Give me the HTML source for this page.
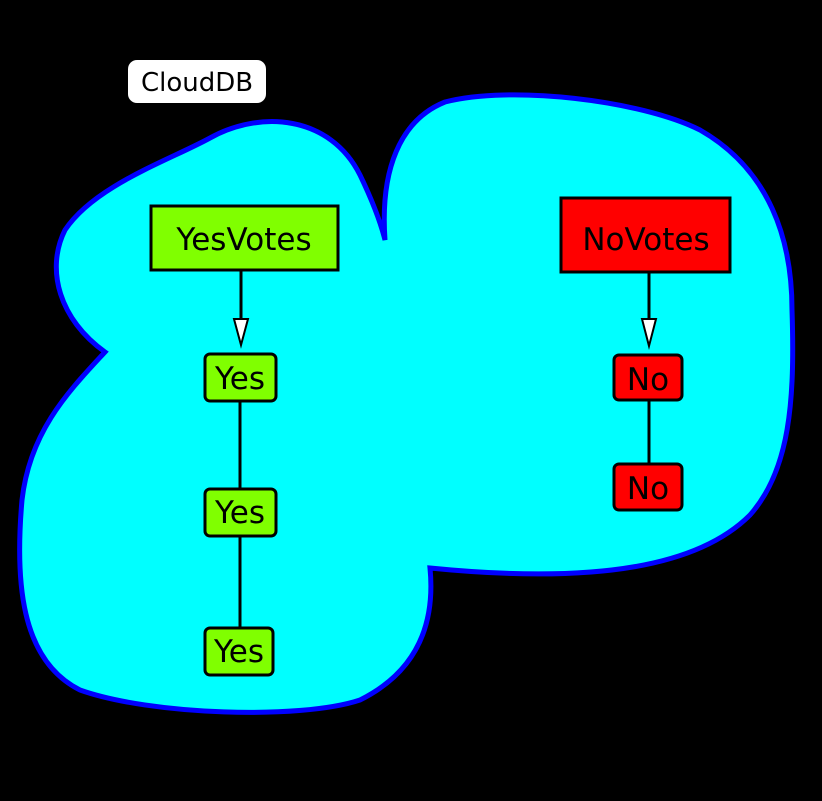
<!DOCTYPE html>
<html><head><style>
body{margin:0;background:#000;width:822px;height:796px;overflow:hidden}
svg text{font-family:"DejaVu Sans","Liberation Sans",sans-serif;fill:#000}
</style></head><body>
<svg width="822" height="796" viewBox="0 0 822 796">
<path d="M105,352 C60,320 45,270 65,230 C95,185 170,160 210,138 C260,110 330,115 360,175 C372,200 380,220 385,240 C380,170 400,120 445,102 C510,85 640,100 700,130 C770,170 792,240 792,310 C795,400 790,470 750,515 C700,565 600,585 430,568 C435,620 420,670 360,700 C300,720 150,715 80,690 C20,660 15,580 22,500 C30,430 70,390 105,352 Z" fill="#00ffff" stroke="#0000ff" stroke-width="5"/>
<rect x="128" y="60" width="138" height="43" rx="9" fill="#fff"/>
<text x="197" y="91" font-size="26" text-anchor="middle">CloudDB</text>
<rect x="151" y="206" width="187" height="64" fill="#80ff00" stroke="#000" stroke-width="3"/>
<text x="244" y="250" font-size="31" text-anchor="middle">YesVotes</text>
<line x1="241" y1="270" x2="241" y2="320" stroke="#000" stroke-width="3"/>
<polygon points="234,319 248,319 241,345" fill="#fff" stroke="#000" stroke-width="2"/>
<rect x="561" y="198" width="169" height="74" fill="#ff0000" stroke="#000" stroke-width="3"/>
<text x="646" y="250" font-size="31" text-anchor="middle">NoVotes</text>
<line x1="649" y1="272" x2="649" y2="320" stroke="#000" stroke-width="3"/>
<polygon points="642,319 656,319 649,346" fill="#fff" stroke="#000" stroke-width="2"/>
<line x1="240" y1="401" x2="240" y2="489" stroke="#000" stroke-width="3"/>
<line x1="240" y1="536" x2="240" y2="628" stroke="#000" stroke-width="3"/>
<line x1="649" y1="400" x2="649" y2="464" stroke="#000" stroke-width="3"/>
<g stroke="#000" stroke-width="3">
<rect x="205" y="354" width="71" height="47" rx="5" fill="#80ff00"/>
<rect x="205" y="489" width="71" height="47" rx="5" fill="#80ff00"/>
<rect x="205" y="628" width="68" height="47" rx="5" fill="#80ff00"/>
<rect x="614" y="355" width="68" height="45" rx="5" fill="#ff0000"/>
<rect x="614" y="464" width="68" height="46" rx="5" fill="#ff0000"/>
</g>
<g font-size="31" text-anchor="middle">
<text x="240" y="389">Yes</text>
<text x="240" y="523">Yes</text>
<text x="239" y="662">Yes</text>
<text x="648" y="390">No</text>
<text x="648" y="499">No</text>
</g>
</svg>
</body></html>
